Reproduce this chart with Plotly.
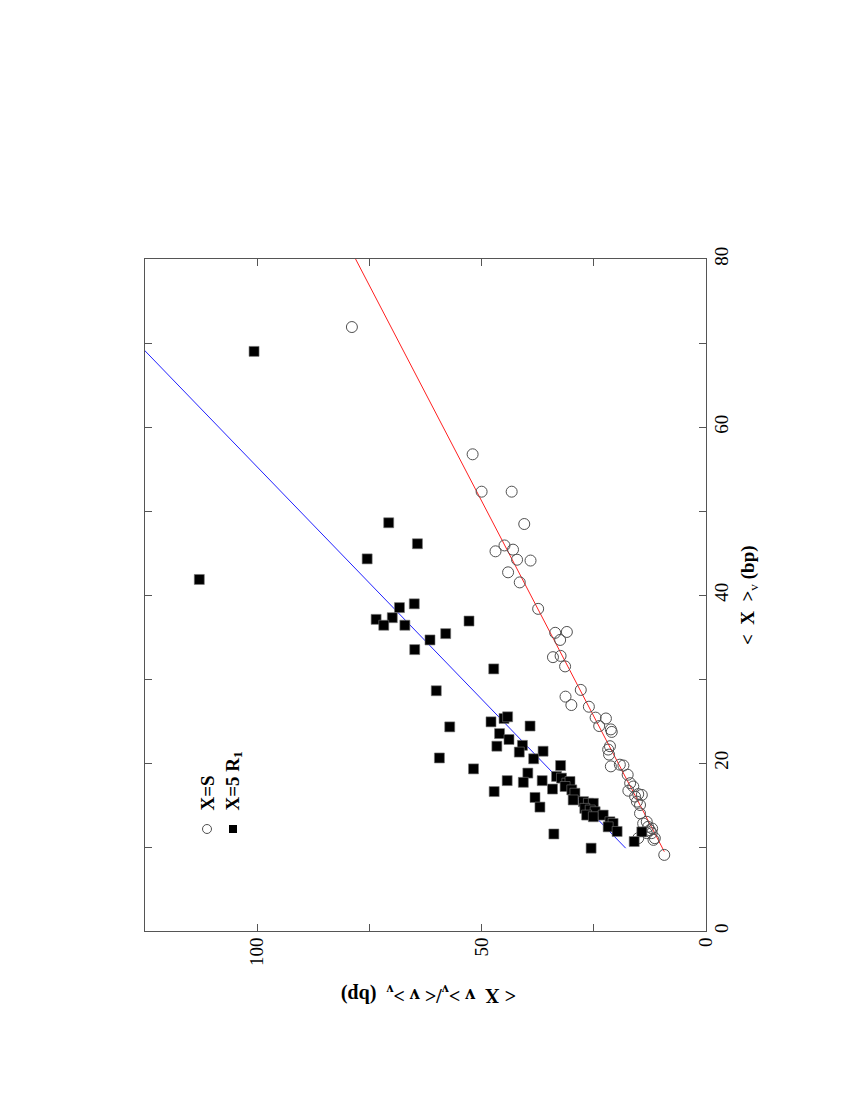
import plotly.graph_objects as go

# ---- data: x = <X>_v (bp) (vertical axis), y = <X v>_v/<v>_v (bp) (horizontal axis)
s_x = [71.9, 56.75, 52.3, 52.3, 48.45, 45.9, 45.2, 45.4, 44.2, 44.1, 42.7, 41.5, 38.35,
       35.5, 35.6, 34.65, 32.6, 32.75, 31.5, 28.7, 27.9, 26.9, 26.7, 25.4, 25.3, 24.4,
       24.0, 23.7, 22.0, 21.6, 21.0, 19.6, 19.8, 19.7, 18.6, 17.6, 17.2, 16.7, 16.3, 16.0,
       16.2, 15.4, 15.0, 14.0, 13.0, 12.8, 12.4, 12.0, 11.65, 11.65, 10.85, 11.05, 9.06,
       11.05, 12.2]
s_y = [78.9, 52.0, 50.0, 43.3, 40.5, 44.9, 46.9, 43.0, 42.1, 39.1, 44.1, 41.5, 37.4,
       33.6, 31.0, 32.5, 34.1, 32.4, 31.4, 27.9, 31.3, 30.0, 26.1, 24.6, 22.3, 23.8,
       21.2, 21.0, 21.4, 21.8, 21.6, 21.2, 19.2, 18.4, 17.45, 16.9, 16.2, 17.3, 15.1, 15.8,
       14.3, 15.4, 14.7, 14.7, 13.2, 14.0, 12.9, 12.5, 12.1, 13.2, 11.7, 15.1, 9.3,
       11.4, 12.0]

r_x = [69.0, 41.85, 48.6, 46.1, 44.3, 38.5, 38.95, 37.1, 37.3, 36.4, 36.4, 34.65, 33.5,
       36.9, 35.4, 31.2, 28.6, 24.9, 25.3, 25.5, 24.3, 24.4, 20.6, 19.3, 23.5, 22.8,
       22.0, 22.1, 21.3, 21.4, 20.5, 19.7, 18.8, 17.9, 17.7, 17.9, 18.4, 18.2, 17.6,
       17.8, 17.2, 16.9, 16.8, 16.4, 16.6, 15.9, 15.6, 15.4, 15.2, 15.2, 14.75, 14.6,
       14.4, 14.2, 13.8, 13.6, 13.8, 13.0, 12.8, 12.4, 11.85, 11.55, 11.8, 10.65, 9.86]
r_y = [100.7, 112.9, 70.7, 64.3, 75.5, 68.3, 65.0, 73.5, 69.9, 71.8, 67.1, 61.5, 64.9,
       52.8, 58.0, 47.3, 60.1, 47.9, 45.0, 44.2, 57.1, 39.2, 59.4, 51.8, 46.0, 43.9,
       46.6, 40.9, 41.6, 36.3, 38.4, 32.4, 39.7, 44.3, 40.7, 36.5, 33.3, 32.2, 31.0,
       30.3, 31.4, 34.2, 29.9, 29.2, 47.2, 38.1, 29.6, 27.3, 26.2, 25.1, 37.0, 27.0,
       25.8, 24.7, 26.6, 25.1, 22.9, 21.4, 20.7, 21.8, 19.8, 33.9, 14.3, 16.0, 25.6]

# linear fits: y = slope * x + intercept, drawn over [x_start, x_end]
fit_s = dict(slope=0.975, intercept=0.08, x0=9.45, x1=82.0)
fit_r = dict(slope=1.809, intercept=0.06, x0=9.86, x1=72.0)

x_ticks = [0, 20, 40, 60, 80]
y_ticks = [0, 50, 100]

# ---- layout geometry (pixels, as seen on the page; body has an 8px margin)
W, H = 850, 1100
OFF = 8
L, R, T, B = 145, 706, 259, 931
FONT = "Liberation Serif"


def px(xp):
    return (xp - L) / (R - L)


def py(yp):
    return (B - yp) / (B - T)


fig = go.Figure()

for f, col in [(fit_s, "#ff2020"), (fit_r, "#2020ff")]:
    xs = [f["x0"], f["x1"]]
    ys = [f["slope"] * v + f["intercept"] for v in xs]
    fig.add_trace(go.Scatter(x=ys, y=xs, mode="lines",
                             line=dict(color=col, width=1), hoverinfo="skip"))

fig.add_trace(go.Scatter(x=s_y, y=s_x, mode="markers", name="X=S",
                         marker=dict(symbol="circle-open", size=11,
                                     color="#505050", line=dict(width=1, color="#505050"))))
fig.add_trace(go.Scatter(x=r_y, y=r_x, mode="markers", name="X=5 R1",
                         marker=dict(symbol="square", size=10, color="black",
                                     line=dict(width=0.6, color="#777777"))))

axis_common = dict(showline=True, linecolor="#555555", linewidth=1, mirror="ticks",
                   ticks="inside", ticklen=7, tickcolor="#555555", showgrid=False,
                   zeroline=False, tickangle=-90, automargin=False,
                   ticklabelstandoff=-2,
                   tickfont=dict(family=FONT, size=19, color="black"))

fig.update_layout(
    width=W, height=H, showlegend=False,
    paper_bgcolor="white", plot_bgcolor="white",
    margin=dict(l=L - OFF, r=W - R + OFF, t=T - OFF, b=H - B + OFF),
    xaxis=dict(range=[125, 0], tickvals=y_ticks, ticktext=[str(v) for v in y_ticks],
               minor=dict(dtick=25, tick0=0, ticks="inside", ticklen=7, tickcolor="#555555"),
               **axis_common),
    yaxis=dict(range=[0, 80], side="right", tickvals=x_ticks,
               ticktext=[str(v) for v in x_ticks],
               minor=dict(dtick=10, tick0=0, ticks="inside", ticklen=7, tickcolor="#555555"),
               **axis_common),
)

# axis titles (page is rotated)
fig.add_annotation(xref="paper", yref="paper", x=px(749), y=py(595),
                   text="<b>&lt;&nbsp; X &nbsp;&gt;</b><sub>v</sub> <b>(bp)</b>", textangle=-90,
                   showarrow=False, xanchor="center", yanchor="middle",
                   font=dict(family=FONT, size=19, color="black"))
fig.add_annotation(xref="paper", yref="paper", x=px(429), y=py(995),
                   text="<b>&lt; X &nbsp;v &gt;<sub>v</sub>/&lt; v &gt;<sub>v</sub> &nbsp;(bp)</b>",
                   textangle=180, showarrow=False, xanchor="center", yanchor="middle",
                   font=dict(family=FONT, size=20, color="black"))

# legend (drawn manually, rotated text)
fig.add_shape(type="circle", xref="paper", yref="paper",
              x0=px(202.5), x1=px(211.5), y0=py(833.5), y1=py(824.5),
              line=dict(color="#505050", width=1))
fig.add_shape(type="rect", xref="paper", yref="paper",
              x0=px(229), x1=px(237), y0=py(833), y1=py(825),
              fillcolor="black", line=dict(color="black", width=0))
fig.add_annotation(xref="paper", yref="paper", x=px(207), y=py(813),
                   text="<b>X=S</b>", textangle=-90, showarrow=False,
                   xanchor="center", yanchor="bottom",
                   font=dict(family=FONT, size=19, color="black"))
fig.add_annotation(xref="paper", yref="paper", x=px(233), y=py(813),
                   text="<b>X=5 R<sub>1</sub></b>", textangle=-90, showarrow=False,
                   xanchor="center", yanchor="bottom",
                   font=dict(family=FONT, size=19, color="black"))

fig.write_html("out.html")
